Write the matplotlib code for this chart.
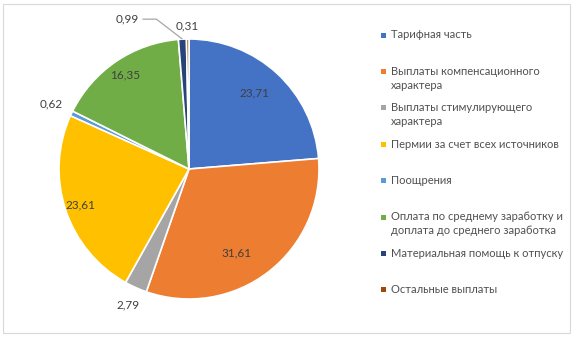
import matplotlib
matplotlib.use("Agg")
import matplotlib.pyplot as plt
import numpy as np
from matplotlib.patches import Rectangle

categories = [
    "Тарифная часть",
    "Выплаты компенсационного\nхарактера",
    "Выплаты стимулирующего\nхарактера",
    "Пермии за счет всех источников",
    "Поощрения",
    "Оплата по среднему заработку и\nдоплата до среднего заработка",
    "Материальная помощь к отпуску",
    "Остальные выплаты",
]
values = [23.71, 31.61, 2.79, 23.61, 0.62, 16.35, 0.99, 0.31]
value_labels = ["23,71", "31,61", "2,79", "23,61", "0,62", "16,35", "0,99", "0,31"]

colors = ["#4472C4", "#ED7D31", "#A5A5A5", "#FFC000", "#5B9BD5", "#70AD47", "#264478", "#9E480E"]
label_dist = [0.77, 0.74, 1.15, 0.88, 1.17, 0.87, None, 1.1]
label_shift = [2, -8, 0, 0, 0, 0, 0, 0]

W, H = 574, 338
plt.rcParams['font.family'] = ['Lato', 'DejaVu Sans']
fig = plt.figure(figsize=(W / 100, H / 100), dpi=100)

# outer frame
fig.add_artist(Rectangle((3 / W, 5 / H), 567 / W, 329 / H, transform=fig.transFigure,
                         fill=False, edgecolor="#D9D9D9", linewidth=0.8))

cx, cy, R = 189, 169, 130
ax = fig.add_axes([(cx - R) / W, (H - cy - R) / H, 2 * R / W, 2 * R / H])
ax.axis("off")

wedges, _ = ax.pie(values, colors=colors, startangle=90, counterclock=False,
                   radius=1, wedgeprops=dict(edgecolor="white", linewidth=1.2))
ax.set_xlim(-1, 1)
ax.set_ylim(-1, 1)
ax.set_aspect("auto")

lab_color = "#404040"
lab_fs = 8.5
for i, w in enumerate(wedges):
    mid = np.deg2rad((w.theta1 + w.theta2) / 2 + label_shift[i])
    if label_dist[i] is None:
        ex, ey = np.cos(mid), np.sin(mid)
        lx, ly = ex - 55 / R, ey + 20 / R
        ax.text(lx, ly, value_labels[i], ha="center", va="center",
                fontsize=lab_fs, color=lab_color)
        ax.plot([lx + 15 / R, lx + 29 / R, ex], [ly, ly, ey], color="#A6A6A6",
                lw=0.9, clip_on=False, solid_capstyle="butt")
    else:
        d = label_dist[i]
        ax.text(d * np.cos(mid), d * np.sin(mid), value_labels[i], ha="center", va="center",
                fontsize=lab_fs, color=lab_color)

# legend
leg_color = "#505050"
x_mark, x_text = 383, 391
y_top = 35
step = 36.4
for i, cat in enumerate(categories):
    y = y_top + i * step
    fig.add_artist(Rectangle(((x_mark - 2.5) / W, (H - y - 2.5) / H), 5 / W, 5 / H,
                             transform=fig.transFigure, facecolor=colors[i], edgecolor="none"))
    fig.text(x_text / W, (H - y + 5.5) / H, cat, ha="left", va="top", fontsize=8,
             color=leg_color, linespacing=1.3)

fig.savefig("out.png", dpi=100)
